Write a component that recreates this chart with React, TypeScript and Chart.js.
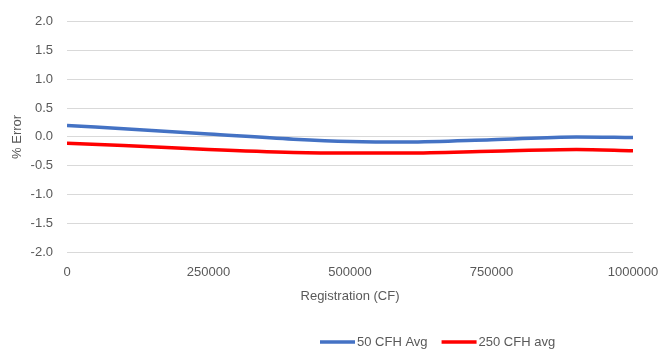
import React, { useEffect, useRef } from "react";
import { Chart, registerables } from "chart.js";

Chart.register(...registerables);

const registration = [0, 100000, 250000, 400000, 500000, 600000, 750000, 900000, 1000000];
const cfh50Avg = [0.2, 0.14, 0.05, -0.04, -0.08, -0.09, -0.05, 0.0, -0.01];
const cfh250Avg = [-0.11, -0.15, -0.22, -0.27, -0.28, -0.28, -0.25, -0.22, -0.24];
const seriesLabels = ["50 CFH Avg", "250 CFH avg"];
const seriesColors = ["#4472C4", "#FF0000"];

const FONT = "'Liberation Sans', Arial, sans-serif";
const TEXT = "#595959";

const legendPlugin = {
  id: "customLegend",
  afterDraw(chart: any) {
    const ctx = chart.ctx;
    ctx.save();
    ctx.font = `13px ${FONT}`;
    ctx.fillStyle = TEXT;
    ctx.textBaseline = "middle";
    const y = 342;
    let x = 320;
    chart.data.datasets.forEach((ds: any) => {
      ctx.strokeStyle = ds.borderColor;
      ctx.lineWidth = 3.5;
      ctx.beginPath();
      ctx.moveTo(x, y);
      ctx.lineTo(x + 35, y);
      ctx.stroke();
      ctx.fillText(ds.label, x + 37, y);
      x += 37 + ctx.measureText(ds.label).width + 14;
    });
    ctx.restore();
  },
};

export default function App() {
  const ref = useRef<HTMLCanvasElement | null>(null);
  useEffect(() => {
    if (!ref.current) return;
    const chart = new Chart(ref.current, {
      type: "line",
      data: {
        datasets: [
          {
            label: seriesLabels[0],
            data: registration.map((x, i) => ({ x, y: cfh50Avg[i] })),
            borderColor: seriesColors[0],
            backgroundColor: seriesColors[0],
            borderWidth: 3.5,
            pointRadius: 0,
            cubicInterpolationMode: "monotone",
          },
          {
            label: seriesLabels[1],
            data: registration.map((x, i) => ({ x, y: cfh250Avg[i] })),
            borderColor: seriesColors[1],
            backgroundColor: seriesColors[1],
            borderWidth: 3.5,
            pointRadius: 0,
            cubicInterpolationMode: "monotone",
          },
        ],
      },
      options: {
        animation: false,
        responsive: false,
        layout: { padding: { left: 0, top: 17, right: 27, bottom: 40 } },
        plugins: { legend: { display: false }, tooltip: { enabled: false } },
        scales: {
          x: {
            type: "linear",
            min: 0,
            max: 1000000,
            afterFit: (s: any) => { s.height = 60; s.paddingRight = 0; s.paddingLeft = 0; },
            ticks: {
              stepSize: 250000,
              padding: 13,
              color: TEXT,
              font: { family: FONT, size: 13 },
              maxRotation: 0,
              callback: (v: any) => String(v),
            },
            grid: { display: false, drawTicks: false },
            border: { display: false },
            title: {
              display: true,
              text: "Registration (CF)",
              color: TEXT,
              font: { family: FONT, size: 13 },
              padding: { top: 0, bottom: 8 },
            },
          },
          y: {
            min: -2,
            max: 2,
            afterFit: (s: any) => { s.width = 67; },
            ticks: {
              stepSize: 0.5,
              padding: 14,
              color: TEXT,
              font: { family: FONT, size: 13 },
              callback: (v: any) => Number(v).toFixed(1),
            },
            grid: { color: "#d9d9d9", lineWidth: 1, drawTicks: false },
            border: { display: false },
            title: {
              display: true,
              text: "% Error",
              color: TEXT,
              font: { family: FONT, size: 13 },
              padding: { top: 10, bottom: 0 },
            },
          },
        },
      },
      plugins: [legendPlugin],
    } as any);
    return () => chart.destroy();
  }, []);
  return (
    <div style={{ position: "fixed", left: 0, top: 0, width: 660, height: 352, background: "#fff" }}>
      <canvas ref={ref} width={660} height={352} style={{ width: 660, height: 352 }} />
    </div>
  );
}
